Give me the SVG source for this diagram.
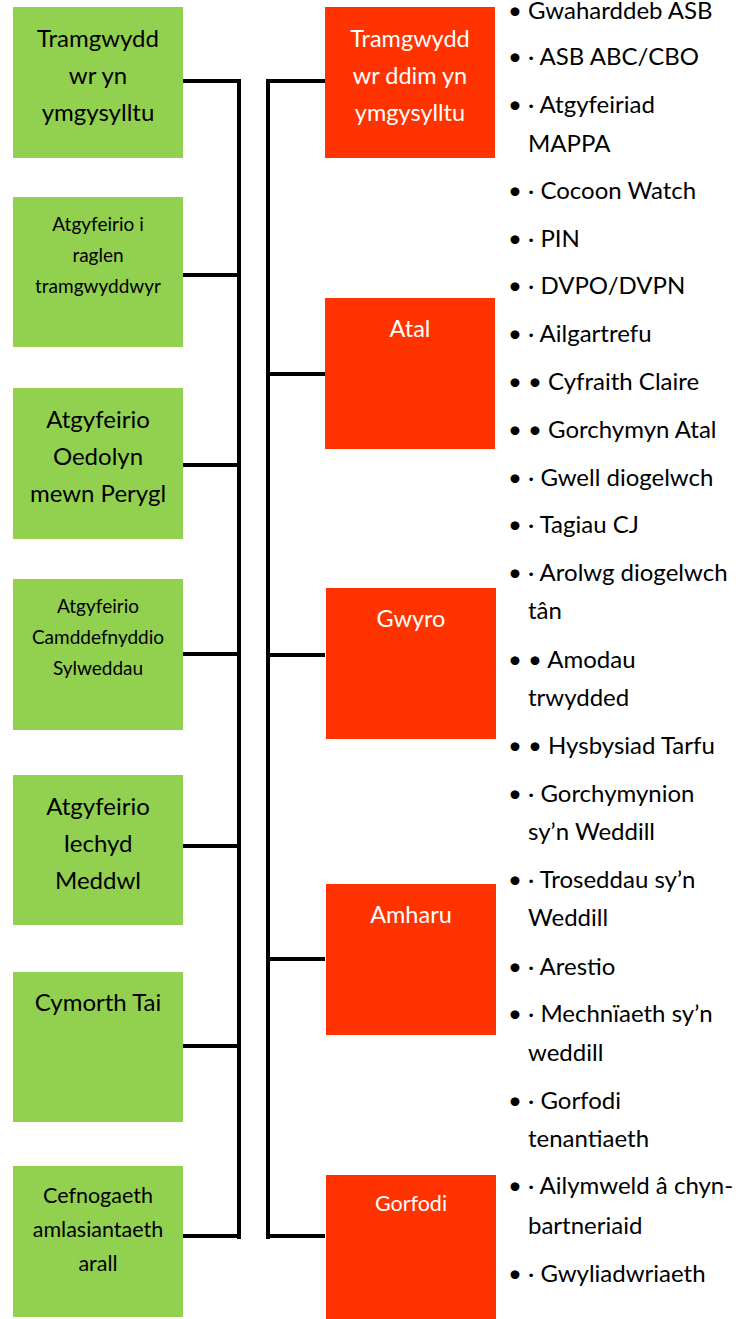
<svg xmlns="http://www.w3.org/2000/svg" width="738" height="1319" viewBox="0 0 738 1319">
<style>
.g{fill:#92D050}
.o{fill:#FF3300}
text{font-family:Lato,"Liberation Sans",sans-serif}
.gt{font-size:24px;fill:#000;text-anchor:middle}
.gs{font-size:19px;fill:#000;text-anchor:middle}
.gm{font-size:21.5px;fill:#000;text-anchor:middle}
.ot{font-size:23.5px;fill:#fff;text-anchor:middle}
.os{font-size:21.5px;fill:#fff;text-anchor:middle}
.li{font-size:24px;fill:#000}
.bu{font-size:24px;fill:#000;text-anchor:middle}
.c{stroke:#000;stroke-width:4;fill:none}
</style>
<g id="connectors">
<path class="c" d="M183 81H239M239 79V1239M183 275H239M183 465H239M183 654H239M183 846H239M183 1046H239M183 1236H239"/>
<path class="c" d="M325 81H268M268 79V1239M325 374H268M325 655H268M325 959H268M325 1236H268"/>
</g>
<g id="n-tramgwyddwr-ymgysylltu"><rect class="g" x="13" y="7" width="170" height="151"/>
<text class="gt" x="98" y="47">Tramgwydd</text><text class="gt" x="98" y="84">wr yn</text><text class="gt" x="98" y="121">ymgysylltu</text></g>
<g id="n-raglen"><rect class="g" x="13" y="197" width="170" height="150"/>
<text class="gs" x="98" y="231">Atgyfeirio i</text><text class="gs" x="98" y="262">raglen</text><text class="gs" x="98" y="293">tramgwyddwyr</text></g>
<g id="n-oedolyn"><rect class="g" x="13" y="388" width="170" height="151"/>
<text class="gt" x="98" y="428">Atgyfeirio</text><text class="gt" x="98" y="465">Oedolyn</text><text class="gt" x="98" y="502">mewn Perygl</text></g>
<g id="n-sylweddau"><rect class="g" x="13" y="579" width="170" height="151"/>
<text class="gs" x="98" y="613">Atgyfeirio</text><text class="gs" x="98" y="644">Camddefnyddio</text><text class="gs" x="98" y="675">Sylweddau</text></g>
<g id="n-iechyd"><rect class="g" x="13" y="775" width="170" height="150"/>
<text class="gt" x="98" y="815">Atgyfeirio</text><text class="gt" x="98" y="852">Iechyd</text><text class="gt" x="98" y="889">Meddwl</text></g>
<g id="n-tai"><rect class="g" x="13" y="972" width="170" height="150"/>
<text class="gt" x="98" y="1011">Cymorth Tai</text></g>
<g id="n-amlasiantaeth"><rect class="g" x="13" y="1166" width="170" height="151"/>
<text class="gm" x="98" y="1203">Cefnogaeth</text><text class="gm" x="98" y="1237">amlasiantaeth</text><text class="gm" x="98" y="1271">arall</text></g>
<g id="n-ddim-ymgysylltu"><rect class="o" x="325" y="7" width="170" height="151"/>
<text class="ot" x="410" y="47">Tramgwydd</text><text class="ot" x="410" y="84">wr ddim yn</text><text class="ot" x="410" y="121">ymgysylltu</text></g>
<g id="n-atal"><rect class="o" x="325" y="298" width="170" height="151"/>
<text class="ot" x="410" y="337">Atal</text></g>
<g id="n-gwyro"><rect class="o" x="326" y="588" width="170" height="151"/>
<text class="ot" x="411" y="627">Gwyro</text></g>
<g id="n-amharu"><rect class="o" x="326" y="884" width="170" height="151"/>
<text class="ot" x="411" y="923">Amharu</text></g>
<g id="n-gorfodi"><rect class="o" x="326" y="1175" width="170" height="144"/>
<text class="os" x="411" y="1211">Gorfodi</text></g>
<g id="list">
<text class="bu" x="515" y="19">•</text><text class="li" x="528" y="19">Gwaharddeb ASB</text>
<text class="bu" x="515" y="65">•</text><text class="li" x="528" y="65">· ASB ABC/CBO</text>
<text class="bu" x="515" y="113">•</text><text class="li" x="528" y="113">· Atgyfeiriad</text>
<text class="li" x="528" y="152">MAPPA</text>
<text class="bu" x="515" y="199">•</text><text class="li" x="528" y="199">· Cocoon Watch</text>
<text class="bu" x="515" y="247">•</text><text class="li" x="528" y="247">· PIN</text>
<text class="bu" x="515" y="294">•</text><text class="li" x="528" y="294">· DVPO/DVPN</text>
<text class="bu" x="515" y="342">•</text><text class="li" x="528" y="342">· Ailgartrefu</text>
<text class="bu" x="515" y="390">•</text><text class="li" x="528" y="390">• Cyfraith Claire</text>
<text class="bu" x="515" y="438">•</text><text class="li" x="528" y="438">• Gorchymyn Atal</text>
<text class="bu" x="515" y="486">•</text><text class="li" x="528" y="486">· Gwell diogelwch</text>
<text class="bu" x="515" y="533">•</text><text class="li" x="528" y="533">· Tagiau CJ</text>
<text class="bu" x="515" y="581">•</text><text class="li" x="528" y="581">· Arolwg diogelwch</text>
<text class="li" x="528" y="619">tân</text>
<text class="bu" x="515" y="668">•</text><text class="li" x="528" y="668">• Amodau</text>
<text class="li" x="528" y="706">trwydded</text>
<text class="bu" x="515" y="754">•</text><text class="li" x="528" y="754">• Hysbysiad Tarfu</text>
<text class="bu" x="515" y="802">•</text><text class="li" x="528" y="802">· Gorchymynion</text>
<text class="li" x="528" y="840">sy’n Weddill</text>
<text class="bu" x="515" y="888">•</text><text class="li" x="528" y="888">· Troseddau sy’n</text>
<text class="li" x="528" y="926">Weddill</text>
<text class="bu" x="515" y="975">•</text><text class="li" x="528" y="975">· Arestio</text>
<text class="bu" x="515" y="1022">•</text><text class="li" x="528" y="1022">· Mechnïaeth sy’n</text>
<text class="li" x="528" y="1061">weddill</text>
<text class="bu" x="515" y="1109">•</text><text class="li" x="528" y="1109">· Gorfodi</text>
<text class="li" x="528" y="1147">tenantiaeth</text>
<text class="bu" x="515" y="1194">•</text><text class="li" x="528" y="1194">· Ailymweld â chyn-</text>
<text class="li" x="528" y="1234">bartneriaid</text>
<text class="bu" x="515" y="1282">•</text><text class="li" x="528" y="1282">· Gwyliadwriaeth</text>
</g>
</svg>
